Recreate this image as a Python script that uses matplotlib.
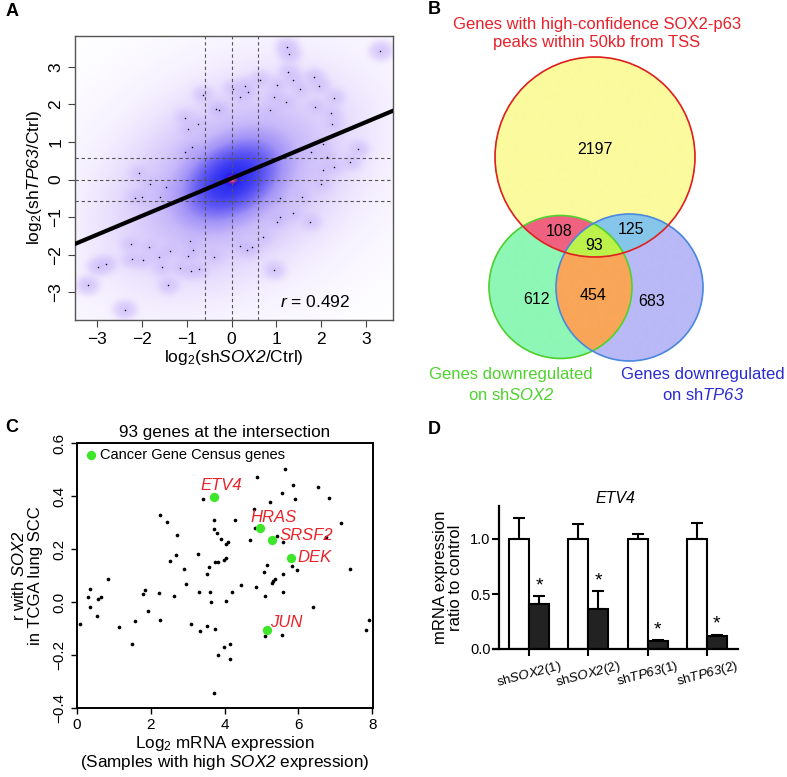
import numpy as np
import matplotlib
matplotlib.use('Agg')
import matplotlib.pyplot as plt
from matplotlib.colors import LinearSegmentedColormap, to_rgba
from matplotlib.patches import Circle

plt.rcParams['font.family'] = 'Liberation Sans'
plt.rcParams['mathtext.fontset'] = 'custom'
plt.rcParams['mathtext.rm'] = 'Liberation Sans'
plt.rcParams['mathtext.it'] = 'Liberation Sans:italic'
# \mathsf is used for italic gene names so that digits stay italic too
plt.rcParams['mathtext.sf'] = 'Liberation Sans:italic'

# ---------------- panel A: log2 fold changes (sparse points shown as dots)
a_dots_x = [3.32, 1.23, 1.29, 1.27, 1.38, 1.83, 1.96, 0.64, 1.01, 0.95, 0.86, 1.21,
            1.53, 1.87, 2.28, 2.22, 2.25, 0.19, 0.04, 0.30, 0.36, -0.63, -0.34, -0.27,
            -1.04, -0.98, -0.74, -0.89, -1.04, 1.77, 2.03, 2.81, 2.65, 2.13, 2.04, 1.99,
            2.28, 1.57, 1.08, 1.38, 1.75, 1.07, 1.01, 0.71, 0.19, 0.34, 0.45, 0.94,
            -2.06, -2.15, -2.00, -1.59, -1.82, -1.45, -2.25, -1.85, -1.61, -1.37, -1.97,
            -2.23, -2.97, -2.80, -3.21, -2.38, -1.41, -1.56, -1.15, -0.91, -0.72, -0.40,
            -0.92, -0.96, -0.85]
a_dots_y = [3.43, 3.53, 3.33, 2.87, 2.65, 2.72, 2.49, 2.66, 2.51, 2.20, 1.85, 2.07,
            2.40, 1.94, 2.18, 1.76, 1.48, 2.20, 2.42, 2.49, 2.34, 2.26, 1.89, 1.85,
            1.65, 1.34, 1.49, 0.87, 0.74, 0.74, 0.94, 0.81, 0.47, 0.61, 0.25, -0.12,
            0.34, -0.46, -0.50, -0.90, -1.12, -1.01, -1.12, -1.54, -1.77, -1.88, -1.80, -2.41,
            0.16, -0.48, -0.46, -0.46, -0.13, -0.19, -1.72, -1.79, -2.05, -1.89, -2.14,
            -2.12, -2.32, -2.25, -2.81, -3.47, -2.81, -2.34, -2.35, -2.43, -2.39, -2.05,
            -1.63, -2.04, -1.88]
a_r = 0.492
a_slope = 0.50
a_intercept = 0.03
a_spread = 0.68      # sd of the bulk of genes
a_cutoff = 0.585     # log2(1.5)

# ---------------- panel B: Venn counts
venn_counts = [2197, 108, 93, 125, 612, 454, 683]

# ---------------- panel C: 93 genes
c_x = [0.07, 0.29, 0.34, 0.36, 0.54, 0.57, 0.66, 0.84, 1.15, 1.48, 1.57, 1.79, 1.84,
       1.93, 2.23, 2.24, 2.26, 2.43, 2.51, 2.64, 2.69, 2.71, 2.90, 2.94, 3.08, 3.29,
       3.30, 3.33, 3.41, 3.51, 3.53, 3.57, 3.61, 3.62, 3.71, 3.71, 3.73, 3.73, 3.70,
       3.80, 3.83, 3.81, 3.89, 3.97, 3.99, 4.03, 4.04, 4.04, 4.09, 4.15, 4.15, 4.20,
       4.29, 4.44, 4.69, 4.80, 4.82, 4.86, 4.89, 5.07, 5.10, 5.10, 5.16, 5.24, 5.27,
       5.30, 5.37, 5.43, 5.55, 5.57, 5.57, 5.58, 5.55, 5.63, 5.84, 5.82, 5.91, 5.96,
       6.40, 6.54, 6.75, 6.82, 7.16, 7.41, 7.82, 7.90]
c_y = [-0.083, 0.019, 0.050, -0.019, -0.054, 0.011, 0.019, 0.088, -0.096, -0.157,
       -0.070, 0.031, 0.047, -0.035, 0.034, -0.067, 0.327, 0.303, 0.156, 0.024, 0.179,
       0.254, 0.126, 0.069, -0.083, 0.181, 0.038, -0.108, 0.389, 0.106, -0.092, 0.132,
       0.036, -0.001, 0.274, 0.308, 0.150, -0.102, -0.343, 0.260, 0.152, -0.199, 0.239,
       0.160, -0.171, 0.220, 0.005, 0.165, 0.225, -0.160, -0.215, 0.039, 0.310, 0.065,
       0.233, 0.352, 0.278, 0.057, 0.470, 0.113, 0.024, -0.127, 0.139, 0.376, 0.072,
       0.078, 0.088, 0.250, 0.411, 0.104, 0.226, 0.038, -0.123, 0.503, 0.443, 0.136,
       0.389, 0.122, -0.019, 0.433, 0.245, 0.392, 0.300, 0.126, -0.107, -0.067]
census_genes = ['ETV4', 'HRAS', 'SRSF2', 'DEK', 'JUN']
census_x = [3.72, 4.96, 5.28, 5.80, 5.14]
census_y = [0.395, 0.278, 0.233, 0.166, -0.104]

# ---------------- panel D: qPCR
d_labels = [r'sh$\mathsf{SOX2}$(1)', r'sh$\mathsf{SOX2}$(2)',
            r'sh$\mathsf{TP63}$(1)', r'sh$\mathsf{TP63}$(2)']
d_ctrl = [1.0, 1.0, 1.0, 1.0]
d_ctrl_err = [0.19, 0.14, 0.045, 0.15]
d_kd = [0.41, 0.365, 0.073, 0.121]
d_kd_err = [0.07, 0.16, 0.005, 0.005]

fig = plt.figure(figsize=(7.87, 7.77), dpi=100)

# overlay in pixel coordinates for panel letters and the Venn diagram
ov = fig.add_axes([0, 0, 1, 1])
ov.axis('off')

# ================= A =================
axA = fig.add_axes([75 / 787, 1 - 320 / 777, 318 / 787, 284 / 777])
xlimA = (-3.49, 3.60)
ylimA = (-3.74, 3.82)
gx = np.linspace(*xlimA, 600)
gy = np.linspace(*ylimA, 600)
X, Y = np.meshgrid(gx, gy)
rho = 0.35
q = (X ** 2 - 2 * rho * X * Y + Y ** 2) / (a_spread ** 2 * (1 - rho ** 2))
dens = np.exp(-q / 2) + 0.05 * np.exp(-q / (2 * 3.0))
dens += 1.5 * np.exp(-(X ** 2 + Y ** 2) / (2 * 0.08 ** 2))
for px, py in zip(a_dots_x, a_dots_y):
    dens += 0.03 * np.exp(-((X - px) ** 2 + (Y - py) ** 2) / (2 * 0.12 ** 2))
dens = dens ** 0.25
dens = dens / dens.max()

cmapA = LinearSegmentedColormap.from_list('smooth', [
    (0.0, (1, 1, 1)),
    (0.12, (0.96, 0.94, 1.0)),
    (0.25, (0.88, 0.83, 0.99)),
    (0.45, (0.78, 0.72, 0.98)),
    (0.58, (0.64, 0.58, 0.97)),
    (0.68, (0.42, 0.38, 0.96)),
    (0.78, (0.20, 0.20, 0.95)),
    (0.85, (0.12, 0.12, 0.93)),
    (0.92, (0.55, 0.10, 0.75)),
    (1.0, (1.0, 0.40, 0.40))])
axA.imshow(dens, extent=(*xlimA, *ylimA), origin='lower', cmap=cmapA,
           aspect='auto', vmin=0, vmax=1, interpolation='bilinear')
axA.scatter(a_dots_x, a_dots_y, s=1.2, color='black', lw=0, zorder=3)
for v in (-a_cutoff, 0, a_cutoff):
    axA.axvline(v, color='#555555', lw=0.8, ls=(0, (3, 2.5)), zorder=2)
    axA.axhline(v, color='#555555', lw=0.8, ls=(0, (3, 2.5)), zorder=2)
axA.axline((0, a_intercept), slope=a_slope, color='black', lw=3, zorder=4)
axA.set_xlim(xlimA)
axA.set_ylim(ylimA)
axA.set_xticks([-3, -2, -1, 0, 1, 2, 3])
axA.set_yticks([-3, -2, -1, 0, 1, 2, 3])
axA.tick_params(labelsize=12.5, length=5, width=0.8, color='#444444', pad=3.5)
for lab in axA.get_yticklabels():
    lab.set_rotation(90)
    lab.set_va('center')
for s in axA.spines.values():
    s.set_color('#555555')
    s.set_linewidth(1)
axA.set_xlabel(r'log$_2$(sh$\mathsf{SOX2}$/Ctrl)', fontsize=12.5, labelpad=1)
axA.set_ylabel(r'log$_2$(sh$\mathsf{TP63}$/Ctrl)', fontsize=12.5, labelpad=3)
axA.text(0.755, 0.063, r'$\mathit{r}$ = %.3f' % a_r, transform=axA.transAxes,
         fontsize=12.5, ha='center', va='center')

# ================= B =================
top_c, top_r = (595, 157), 100
grn_c, grn_r = (560.5, 287), 71.5
blu_c, blu_r = (629.5, 287.5), 73.5
vx = np.linspace(480, 720, 961)
vy = np.linspace(45, 370, 1301)
VX, VY = np.meshgrid(vx, vy)
inT = (VX - top_c[0]) ** 2 + (VY - top_c[1]) ** 2 <= top_r ** 2
inG = (VX - grn_c[0]) ** 2 + (VY - grn_c[1]) ** 2 <= grn_r ** 2
inB = (VX - blu_c[0]) ** 2 + (VY - blu_c[1]) ** 2 <= blu_r ** 2
img = np.zeros(VX.shape + (4,))
regions = [
    (inT & ~inG & ~inB, '#fbfb9e'),
    (inT & inG & ~inB, '#ef6280'),
    (inT & inG & inB, '#bcf24a'),
    (inT & ~inG & inB, '#86c6ea'),
    (~inT & inG & ~inB, '#8ef7b6'),
    (~inT & inG & inB, '#f9a659'),
    (~inT & ~inG & inB, '#b9b9f7'),
]
for mask, col in regions:
    img[mask] = to_rgba(col)
ov.imshow(img, extent=(480, 720, 370, 45), origin='upper', aspect='auto',
          interpolation='bilinear')
ov.add_patch(Circle(grn_c, grn_r, fill=False, ec='#4fd22e', lw=1.2))
ov.add_patch(Circle(blu_c, blu_r, fill=False, ec='#4a88e0', lw=1.2))
ov.add_patch(Circle(top_c, top_r, fill=False, ec='#e0201c', lw=1.2))
ov.set_xlim(0, 787)
ov.set_ylim(777, 0)

count_pos = [(595, 150), (559, 231), (594, 246), (631, 230),
             (537, 300), (593, 296), (652, 302)]
for n, (tx, ty) in zip(venn_counts, count_pos):
    ov.text(tx, ty, str(n), fontsize=11.5, ha='center', va='center')
ov.text(597, 24, 'Genes with high-confidence SOX2-p63', color='#e8202a',
        fontsize=12, ha='center', va='center')
ov.text(597, 43, 'peaks within 50kb from TSS', color='#e8202a',
        fontsize=12, ha='center', va='center')
ov.text(511, 375, 'Genes downregulated', color='#4fd22e', fontsize=12,
        ha='center', va='center')
ov.text(511, 395, r'on sh$\mathsf{SOX2}$', color='#4fd22e', fontsize=12,
        ha='center', va='center')
ov.text(703, 375, 'Genes downregulated', color='#2a2ad2', fontsize=12,
        ha='center', va='center')
ov.text(703, 395, r'on sh$\mathsf{TP63}$', color='#2a2ad2', fontsize=12,
        ha='center', va='center')

# ================= C =================
axC = fig.add_axes([77 / 787, 1 - 708 / 777, 296 / 787, 265 / 777])
axC.scatter(c_x, c_y, s=7, color='black', lw=0, zorder=3)
axC.scatter(census_x, census_y, s=45, color='#3ee62a', lw=0, zorder=4,
            label='Cancer Gene Census genes')
# label offsets in points: (dx, dy, horizontal alignment)
label_off = {'ETV4': (5, 5.5, 'center'), 'HRAS': (9.6, 4.8, 'center'),
             'SRSF2': (5.8, 0.5, 'left'), 'DEK': (4.8, -2.7, 'left'),
             'JUN': (2.4, 2.2, 'left')}
for g, gxv, gyv in zip(census_genes, census_x, census_y):
    dx, dy, ha = label_off[g]
    axC.annotate(g, (gxv, gyv), xytext=(dx, dy), textcoords='offset points',
                 color='#e8232a', fontsize=12, style='italic', ha=ha, va='baseline')
axC.set_xlim(0, 8.02)
axC.set_ylim(-0.4, 0.6)
axC.set_xticks([0, 2, 4, 6, 8])
axC.set_yticks([-0.4, -0.2, 0.0, 0.2, 0.4, 0.6])
axC.set_yticklabels(['\u22120.4', '\u22120.2', '0.0', '0.2', '0.4', '0.6'])
axC.tick_params(labelsize=11, length=4, width=1)
for lab in axC.get_yticklabels():
    lab.set_rotation(90)
    lab.set_va('center')
for s in axC.spines.values():
    s.set_linewidth(1.4)
axC.set_title('93 genes at the intersection', fontsize=12.3, pad=4)
axC.set_xlabel('Log$_2$ mRNA expression\n(Samples with high $\\mathsf{SOX2}$ expression)',
               fontsize=12.3, labelpad=1, linespacing=1.0)
axC.set_ylabel('r with $\\mathsf{SOX2}$\nin TCGA lung SCC', fontsize=12,
               labelpad=7, linespacing=1.05)
axC.legend(loc='upper left', frameon=False, fontsize=10.5, handletextpad=0.0,
           handlelength=1.2, borderaxespad=0.15, borderpad=0.2)

# ================= D =================
axD = fig.add_axes([493 / 787, 1 - 649 / 777, 245 / 787, 143 / 777])
pos = np.arange(len(d_ctrl))
bw = 0.337
axD.bar(pos - bw / 2, d_ctrl, bw, color='white', edgecolor='black', lw=1.5, zorder=2)
axD.bar(pos + bw / 2, d_kd, bw, color='#222222', edgecolor='black', lw=1.5, zorder=2)
axD.errorbar(pos - bw / 2, d_ctrl, yerr=[[0] * 4, d_ctrl_err], fmt='none',
             ecolor='black', elinewidth=1.5, capsize=4, capthick=1.5, zorder=1)
axD.errorbar(pos + bw / 2, d_kd, yerr=[[0] * 4, d_kd_err], fmt='none',
             ecolor='black', elinewidth=1.5, capsize=4, capthick=1.5, zorder=1)
for p, v, e in zip(pos, d_kd, d_kd_err):
    axD.text(p + bw / 2, v + e + 0.02, '*', fontsize=14, ha='center', va='bottom')
axD.set_xlim(-0.607, 3.524)
axD.set_ylim(0, 1.3)
axD.spines['left'].set_position(('data', -0.506))
axD.spines['top'].set_visible(False)
axD.spines['right'].set_visible(False)
axD.spines['left'].set_linewidth(1.6)
axD.spines['bottom'].set_linewidth(1.6)
axD.set_yticks([0, 0.5, 1.0])
axD.set_yticklabels(['0.0', '0.5', '1.0'])
axD.set_xticks(pos)
axD.set_xticklabels(d_labels, rotation=15, ha='center')
axD.tick_params(axis='y', labelsize=10.5, length=5, width=1.5, pad=1)
axD.tick_params(axis='x', labelsize=9.5, length=5, width=1.5, pad=2)
axD.set_title('ETV4', fontsize=11.5, style='italic', pad=-1)
axD.set_ylabel('mRNA expression\nratio to control', fontsize=12, labelpad=5,
               linespacing=1.0)

# panel letters
for letter, lx, ly in [('A', 12, 12), ('B', 434, 10), ('C', 12, 428), ('D', 434, 430)]:
    ov.text(lx, ly, letter, fontsize=13, fontweight='bold', ha='center', va='center')

fig.savefig('out.png', dpi=100)
